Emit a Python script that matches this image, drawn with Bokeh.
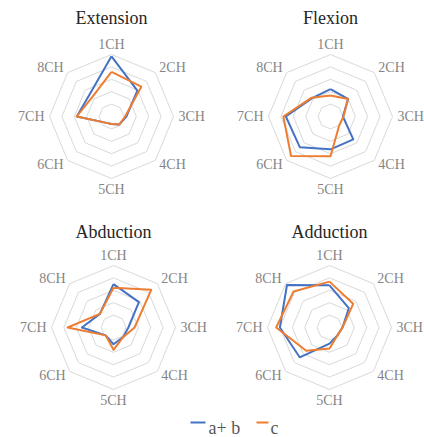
import math
from bokeh.plotting import figure
from bokeh.models import Range1d
from bokeh.core.properties import value
from bokeh.embed import file_html
from bokeh.resources import INLINE

channels = ["1CH", "2CH", "3CH", "4CH", "5CH", "6CH", "7CH", "8CH"]
titles = ["Extension", "Flexion", "Abduction", "Adduction"]
series_names = ["a+ b", "c"]

ext_ab = [4.85, 2.95, 1.2, 0.9, 0.6, 0.7, 2.8, 2.5]
ext_c = [3.6, 3.4, 1.1, 0.9, 0.6, 0.7, 2.8, 2.2]
flex_ab = [2.2, 2.0, 1.0, 2.6, 2.65, 3.5, 3.6, 2.1]
flex_c = [1.7, 2.0, 1.05, 1.0, 3.2, 4.5, 3.8, 2.15]
abd_ab = [3.5, 2.9, 1.2, 1.1, 1.35, 0.9, 2.55, 1.55]
abd_c = [3.2, 4.3, 1.7, 1.1, 1.8, 0.9, 3.7, 1.55]
add_ab = [3.4, 2.2, 1.05, 0.9, 1.3, 3.4, 4.0, 4.85]
add_c = [3.7, 2.7, 1.05, 0.9, 1.7, 2.65, 4.3, 4.1]

ring_levels = [1, 2, 3, 4, 5]
axis_max = 5

data = [(ext_ab, ext_c), (flex_ab, flex_c), (abd_ab, abd_c), (add_ab, add_c)]

# layout (page pixel coordinates)
centers = [(111, 116), (330, 116), (113, 327), (329, 327)]
title_y = [17, 17, 231, 231]
R = 62.0
COL_AB = "#4472C4"
COL_C = "#ED7D31"
FONT = "Liberation Serif"

W, H = 424, 437
p = figure(width=W, height=H, x_range=Range1d(0, W), y_range=Range1d(H, 0),
           output_backend="svg", toolbar_location=None, min_border=0,
           x_axis_location=None, y_axis_location=None)
p.grid.visible = False
p.outline_line_color = None
p.background_fill_color = "white"


def pt(cx, cy, k, r):
    ang = math.radians(90 - 45 * k)
    return cx + r * math.cos(ang), cy - r * math.sin(ang)


for ci, ((cx, cy), (sab, sc)) in enumerate(zip(centers, data)):
    # rings
    xs, ys = [], []
    for lv in ring_levels:
        r = R * lv / axis_max
        px = [pt(cx, cy, k, r)[0] for k in range(9)]
        py = [pt(cx, cy, k, r)[1] for k in range(9)]
        xs.append(px)
        ys.append(py)
    p.multi_line(xs, ys, line_color="#d9d9d9", line_width=1)

    # category labels
    for k, name in enumerate(channels):
        vx, vy = pt(cx, cy, k, R)
        if k == 0:
            x, y, a, b = vx, vy - 3, "center", "bottom"
        elif k == 1:
            x, y, a, b = vx + 4, vy - 5, "left", "middle"
        elif k == 2:
            x, y, a, b = vx + 5, vy, "left", "middle"
        elif k == 3:
            x, y, a, b = vx + 4, vy + 4, "left", "middle"
        elif k == 4:
            x, y, a, b = vx, vy + 3, "center", "top"
        elif k == 5:
            x, y, a, b = vx - 4, vy + 4, "right", "middle"
        elif k == 6:
            x, y, a, b = vx - 5, vy, "right", "middle"
        else:
            x, y, a, b = vx - 4, vy - 5, "right", "middle"
        p.text([x], [y], text=[name], text_align=a, text_baseline=b,
               text_font=value(FONT), text_font_size="14px", text_color="#858585")

    # series
    for vals, col in ((sab, COL_AB), (sc, COL_C)):
        px = [pt(cx, cy, k, R * v / axis_max)[0] for k, v in enumerate(vals)]
        py = [pt(cx, cy, k, R * v / axis_max)[1] for k, v in enumerate(vals)]
        px.append(px[0])
        py.append(py[0])
        p.line(px, py, line_color=col, line_width=2, line_join="round")

    # title
    p.text([cx], [title_y[ci]], text=[titles[ci]], text_align="center", text_baseline="middle",
           text_font=value(FONT), text_font_size="18px", text_color="#262626")

# legend
p.segment([190], [422], [205], [422], line_color=COL_AB, line_width=2)
p.text([208], [427], text=[series_names[0]], text_align="left", text_baseline="alphabetic",
       text_font=value(FONT), text_font_size="18px", text_color="#595959")
p.segment([256], [422], [268], [422], line_color=COL_C, line_width=2)
p.text([270], [427], text=[series_names[1]], text_align="left", text_baseline="alphabetic",
       text_font=value(FONT), text_font_size="18px", text_color="#595959")

open("out.html", "w").write(file_html(p, INLINE))
